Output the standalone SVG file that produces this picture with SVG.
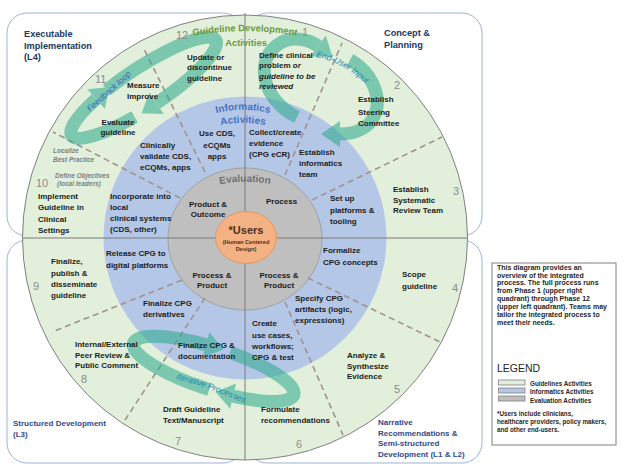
<svg xmlns="http://www.w3.org/2000/svg" width="624" height="475" viewBox="0 0 624 475">
<defs>
<style>
text{font-family:"Liberation Sans",Arial,sans-serif}
.t{font-size:8px;font-weight:bold;fill:#1c1c1c}
.i{font-style:italic}
.c{text-anchor:middle}
.n{font-size:11px;fill:#8c8c8c}
.h{font-size:9.2px;font-weight:bold;fill:#203864}
.h2{font-size:8px;font-weight:bold;fill:#2f4a8c}
.s{font-size:6.5px;font-weight:bold;font-style:italic;fill:#808080}
.lg{font-size:7px;font-weight:bold;fill:#262626}
.ls{font-size:6.3px;font-weight:bold;fill:#262626}
.box{fill:#fff;stroke:#9db3dd;stroke-width:1}
.dash{fill:none;stroke:#a3918d;stroke-width:1.6;stroke-dasharray:6 4}
.band{fill:none;stroke:#2aa98c;stroke-width:13}
.ah{fill:#2aa98c}
.div{stroke:#7a7a7a;stroke-width:1}
.arrowtxt{font-size:8.5px;font-style:italic;fill:#1c86b4}
</style>
<path id="gdArc" d="M 165,42 A 300 300 0 0 1 325,42"/>
<path id="infArc" d="M 173,135 A 110 110 0 0 1 313,135"/>
<path id="actArc" d="M 173,148 A 110 110 0 0 1 313,148"/>
<path id="evalArc" d="M 185,197 A 125 125 0 0 1 305,197"/>
<path id="euArc" d="M 316,57 Q 345,62 372,90"/>
<path id="itArc" d="M 176,379 Q 212,388 250,406"/>
</defs>

<g id="quadrant-frames">
<rect class="box" x="7" y="13" width="236" height="223" rx="20"/>
<rect class="box" x="247" y="13" width="235" height="223" rx="20"/>
<rect class="box" x="7" y="240" width="236" height="223" rx="20"/>
<rect class="box" x="247" y="240" width="235" height="223" rx="20"/>
</g>

<g id="rings">
<circle id="guideline-ring" cx="245" cy="237.5" r="222.5" fill="#e2efda" stroke="#808080" stroke-width="1"/>
<circle id="informatics-ring" cx="245" cy="238" r="141.5" fill="#b4c7e7"/>
<ellipse id="evaluation-ring" cx="245" cy="239" rx="77" ry="71" fill="#bfbfbf" stroke="#a0a0a0" stroke-width="1"/>
</g>

<g id="connectors">
<line class="div" x1="245" y1="13" x2="245" y2="460"/>
<line class="div" x1="22.5" y1="238" x2="467.5" y2="238"/>
<line class="dash" x1="285" y1="175" x2="342" y2="43"/>
<line class="dash" x1="312" y1="200" x2="442" y2="137"/>
<line class="dash" x1="205" y1="172" x2="143" y2="47"/>
<line class="dash" x1="180" y1="198" x2="53" y2="132"/>
<line class="dash" x1="182" y1="280" x2="52" y2="332"/>
<line class="dash" x1="205" y1="298" x2="125" y2="420"/>
<line class="dash" x1="308" y1="278" x2="440" y2="342"/>
<line class="dash" x1="285" y1="302" x2="343" y2="435"/>
<g id="process-arrows" opacity="0.55">
<path class="band" d="M106.9,89.8 A87,20 -33.6 1 1 156.6,103.2"/>
<polygon class="ah" points="163.8,114.0 149.4,92.4 141.6,113.2"/>
<path class="band" d="M134.6,116.8 A87,20 -33.6 0 1 96.1,99.0"/>
<polygon class="ah" points="104.8,108.7 87.4,89.3 109.5,87.0"/>
<path class="band" d="M209.2,389.5 A84,21 17.8 0 1 206.0,344.7"/>
<polygon class="ah" points="209.4,332.2 202.6,357.2 223.4,349.5"/>
<path class="band" d="M230.0,352.3 A84,21 17.8 0 1 233.1,396.1"/>
<polygon class="ah" points="236.0,383.4 230.2,408.8 215.6,392"/>
<path class="band" d="M297,117 C262,100 252,58 282,42 C295,36 310,40 318,46"/>
<polygon class="ah" points="310.2,56.4 325.8,35.6 332.4,56.8"/>
<path class="band" d="M350,60 C372,72 385,100 372,120 C365,130 352,134 340,134"/>
<polygon class="ah" points="340,121 340,147 321,134"/>
</g>
</g>

<g id="users">
<ellipse cx="246" cy="237.5" rx="30.5" ry="26" fill="#f4b183" stroke="#e59560" stroke-width="1"/>
<text class="c" x="246" y="234" style="font-size:11px;font-weight:bold;fill:#4a3220">*Users</text>
<text class="c" x="246" y="244" style="font-size:5.6px;font-weight:bold;fill:#4a3220">(Human Centered</text>
<text class="c" x="246" y="250.5" style="font-size:5.6px;font-weight:bold;fill:#4a3220">Design)</text>
</g>

<g id="ring-titles">
<text style="font-size:9.4px;font-weight:bold;fill:#6a9a3a"><textPath href="#gdArc" startOffset="50%" text-anchor="middle">Guideline Development</textPath></text>
<text class="c" x="246" y="45.5" style="font-size:9.4px;font-weight:bold;fill:#6a9a3a">Activities</text>
<text style="font-size:10px;font-weight:bold;fill:#4472c4"><textPath href="#infArc" startOffset="50%" text-anchor="middle">Informatics</textPath></text>
<text style="font-size:10px;font-weight:bold;fill:#4472c4"><textPath href="#actArc" startOffset="50%" text-anchor="middle">Activities</textPath></text>
<text style="font-size:10px;font-weight:bold;fill:#6f6f6f"><textPath href="#evalArc" startOffset="50%" text-anchor="middle">Evaluation</textPath></text>
<text class="arrowtxt"><textPath href="#euArc">End-User Input</textPath></text>
<text class="arrowtxt"><textPath href="#itArc">Iterative Processes</textPath></text>
<text class="arrowtxt" x="90" y="112" transform="rotate(-42 90 112)" style="fill:#3a66b8">Feedback loop</text>
</g>

<g id="phase-numbers">
<text class="n" x="302" y="36">1</text>
<text class="n" x="394" y="89">2</text>
<text class="n" x="453" y="195">3</text>
<text class="n" x="452" y="292">4</text>
<text class="n" x="394" y="393">5</text>
<text class="n" x="296" y="448">6</text>
<text class="n" x="175" y="445">7</text>
<text class="n" x="81" y="383">8</text>
<text class="n" x="33" y="290">9</text>
<text class="n" x="36" y="186.5">10</text>
<text class="n" x="95" y="83">11</text>
<text class="n" x="176" y="39">12</text>
</g>

<g id="quadrant-labels">
<text class="h" x="24" y="37">Executable</text>
<text class="h" x="24" y="48.5">Implementation</text>
<text class="h" x="24" y="60">(L4)</text>
<text class="h" x="384" y="36">Concept &amp;</text>
<text class="h" x="384" y="48">Planning</text>
<text class="h2" x="13" y="426">Structured Development</text>
<text class="h2" x="13" y="437">(L3)</text>
<text class="h2" x="378" y="425">Narrative</text>
<text class="h2" x="378" y="435.5">Recommendations &amp;</text>
<text class="h2" x="378" y="446">Semi-structured</text>
<text class="h2" x="378" y="456.5">Development (L1 &amp; L2)</text>
</g>

<g id="phase-1">
<text class="t" x="259" y="57.5">Define clinical</text>
<text class="t" x="259" y="68">problem <tspan class="i">or</tspan></text>
<text class="t i" x="259" y="78.5">guideline to be</text>
<text class="t i" x="259" y="88.5">reviewed</text>
</g>
<g id="phase-2">
<text class="t" x="358" y="102">Establish</text>
<text class="t" x="358" y="114.5">Steering</text>
<text class="t" x="358" y="126">Committee</text>
</g>
<g id="phase-3">
<text class="t" x="393" y="192">Establish</text>
<text class="t" x="393" y="202.5">Systematic</text>
<text class="t" x="393" y="213">Review Team</text>
</g>
<g id="phase-4">
<text class="t" x="402" y="277">Scope</text>
<text class="t" x="402" y="289">guideline</text>
</g>
<g id="phase-5">
<text class="t" x="347" y="358">Analyze &amp;</text>
<text class="t" x="347" y="368.5">Synthesize</text>
<text class="t" x="347" y="379">Evidence</text>
</g>
<g id="phase-6">
<text class="t" x="261" y="412">Formulate</text>
<text class="t" x="261" y="422.5">recommendations</text>
</g>
<g id="phase-7">
<text class="t" x="163" y="412">Draft Guideline</text>
<text class="t" x="163" y="422.5">Text/Manuscript</text>
</g>
<g id="phase-8">
<text class="t" x="75" y="347">Internal/External</text>
<text class="t" x="75" y="357.5">Peer Review &amp;</text>
<text class="t" x="75" y="368">Public Comment</text>
</g>
<g id="phase-9">
<text class="t" x="51" y="264">Finalize,</text>
<text class="t" x="51" y="275.5">publish &amp;</text>
<text class="t" x="51" y="287">disseminate</text>
<text class="t" x="51" y="298">guideline</text>
</g>
<g id="phase-10">
<text class="s" x="55" y="178">Define Objectives</text>
<text class="s" x="57" y="186">(local leaders)</text>
<text class="t" x="38" y="199">Implement</text>
<text class="t" x="38" y="210">Guideline in</text>
<text class="t" x="38" y="222">Clinical</text>
<text class="t" x="38" y="232.5">Settings</text>
<text class="s" x="53" y="153">Localize</text>
<text class="s" x="53" y="162">Best Practice</text>
</g>
<g id="phase-11">
<text class="t" x="127" y="88.3">Measure</text>
<text class="t" x="127" y="98.8">Improve</text>
<text class="t c" x="118" y="125">Evaluate</text>
<text class="t c" x="118" y="134.5">guideline</text>
</g>
<g id="phase-12">
<text class="t" x="187" y="59.5">Update or</text>
<text class="t" x="187" y="70">discontinue</text>
<text class="t" x="187" y="80.5">guideline</text>
</g>

<g id="informatics-activities">
<text class="t" x="249" y="135">Collect/create</text>
<text class="t" x="249" y="145.5">evidence</text>
<text class="t" x="249" y="156.5">(CPG eCR)</text>
<text class="t" x="299" y="155">Establish</text>
<text class="t" x="299" y="166">informatics</text>
<text class="t" x="299" y="177.3">team</text>
<text class="t" x="330" y="201">Set up</text>
<text class="t" x="330" y="213">platforms &amp;</text>
<text class="t" x="330" y="224">tooling</text>
<text class="t" x="323" y="253">Formalize</text>
<text class="t" x="323" y="265">CPG concepts</text>
<text class="t" x="295" y="301">Specify CPG</text>
<text class="t" x="295" y="312">artifacts (logic,</text>
<text class="t" x="295" y="323">expressions)</text>
<text class="t" x="252" y="326">Create</text>
<text class="t" x="252" y="337.5">use cases,</text>
<text class="t" x="252" y="349">workflows;</text>
<text class="t" x="252" y="360">CPG &amp; test</text>
<text class="t" x="178" y="348">Finalize CPG &amp;</text>
<text class="t" x="178" y="359">documentation</text>
<text class="t" x="143" y="305.5">Finalize CPG</text>
<text class="t" x="143" y="317">derivatives</text>
<text class="t" x="106" y="256">Release CPG to</text>
<text class="t" x="106" y="267.5">digital platforms</text>
<text class="t" x="110" y="199">Incorporate into</text>
<text class="t" x="110" y="209.5">local</text>
<text class="t" x="110" y="221">clinical systems</text>
<text class="t" x="110" y="232">(CDS, other)</text>
<text class="t" x="140" y="148">Clinically</text>
<text class="t" x="140" y="159">validate CDS,</text>
<text class="t" x="140" y="170">eCQMs, apps</text>
<text class="t c" x="217" y="136">Use CDS,</text>
<text class="t c" x="217" y="148">eCQMs</text>
<text class="t c" x="217" y="159.3">apps</text>
</g>

<g id="evaluation-activities">
<text class="t c" x="208" y="206.7">Product &amp;</text>
<text class="t c" x="208" y="217">Outcome</text>
<text class="t" x="266" y="204">Process</text>
<text class="t c" x="212" y="277.7">Process &amp;</text>
<text class="t c" x="212" y="288.3">Product</text>
<text class="t c" x="279" y="277.7">Process &amp;</text>
<text class="t c" x="279" y="288.3">Product</text>
</g>

<g id="legend">
<rect x="492" y="263" width="124" height="182" fill="#fff" stroke="#808080" stroke-width="1"/>
<text class="lg" x="497" y="269.5">This diagram provides an</text>
<text class="lg" x="497" y="277.5">overview of the integrated</text>
<text class="lg" x="497" y="285.4">process. The full process runs</text>
<text class="lg" x="497" y="293.4">from Phase 1 (upper right</text>
<text class="lg" x="497" y="301.3">quadrant) through Phase 12</text>
<text class="lg" x="497" y="309.3">(upper left quadrant). Teams may</text>
<text class="lg" x="497" y="317.2">tailor the integrated process to</text>
<text class="lg" x="497" y="325.2">meet their needs.</text>
<text x="497" y="372" style="font-size:10.5px;fill:#262626">LEGEND</text>
<rect x="498.5" y="380" width="26.5" height="5" fill="#e2efda" stroke="#808080" stroke-width="0.8"/>
<rect x="498.5" y="388" width="26.5" height="5" fill="#b4c7e7" stroke="#808080" stroke-width="0.8"/>
<rect x="498.5" y="396" width="26.5" height="5" fill="#bfbfbf" stroke="#808080" stroke-width="0.8"/>
<text class="ls" x="530" y="385.7">Guidelines Activities</text>
<text class="ls" x="530" y="394">Informatics Activities</text>
<text class="ls" x="530" y="403.3">Evaluation Activities</text>
<text class="ls" x="497" y="415.7">*Users include clinicians,</text>
<text class="ls" x="497" y="424">healthcare providers, policy makers,</text>
<text class="ls" x="497" y="432.3">and other end-users.</text>
</g>
</svg>
